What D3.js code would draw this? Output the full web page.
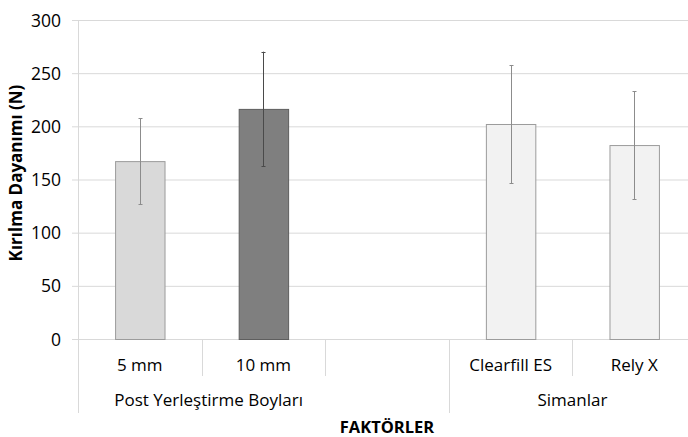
<!DOCTYPE html>
<html><head><meta charset="utf-8">
<script src="https://cdn.jsdelivr.net/npm/d3@7/dist/d3.min.js"></script>
<style>body{margin:0;background:#fff}svg{display:block}text{font-family:"Open Sans",sans-serif;fill:#000}</style>
</head><body><svg id="c" width="688" height="437"></svg>
<script>
const categories = ["5 mm", "10 mm", "", "Clearfill ES", "Rely X"];
const means = [167.3, 216.4, null, 202.2, 182.4];
const errors = [40.4, 53.8, null, 55.5, 50.7];
const groups = ["Post Yerleştirme Boyları", "Simanlar"];
const groupStart = [0, 3];
const groupEnd = [2, 4];
const yTicks = [0, 50, 100, 150, 200, 250, 300];
const fills = ["#d9d9d9", "#7f7f7f", null, "#f2f2f2", "#f2f2f2"];
const strokes = ["#9c9c9c", "#5e5e5e", null, "#9c9c9c", "#9c9c9c"];
const errColors = ["#8c8c8c", "#4a4a4a", null, "#8c8c8c", "#8c8c8c"];

const svg = d3.select("#c");
const L = 78, R = 696, T = 20, B = 339;
const idx = categories.map((d, i) => i);
const x = d3.scaleBand().domain(idx).range([L, R]).padding(0);
const y = d3.scaleLinear().domain([0, 300]).range([B, T]);
const grid = "#d9d9d9";

// gridlines + y ticks
svg.append("g").selectAll("line").data(yTicks).join("line")
  .attr("x1", L - 6).attr("x2", 688).attr("y1", d => y(d) + 0.5).attr("y2", d => y(d) + 0.5)
  .attr("stroke", grid).attr("stroke-width", 1);
svg.append("g").selectAll("text").data(yTicks).join("text")
  .attr("x", 61).attr("y", d => y(d) + 6.5).attr("text-anchor", "end")
  .style("font-size", "17.5px").text(d => d);
// y axis line
svg.append("line").attr("x1", L + 0.5).attr("x2", L + 0.5).attr("y1", T).attr("y2", B)
  .attr("stroke", grid);

// category axis separators
const bw = x.bandwidth();
const inner = d3.range(1, categories.length).filter(i => !groupStart.includes(i));
svg.append("g").selectAll("line").data(inner).join("line")
  .attr("x1", i => Math.round(x(i)) + 0.5).attr("x2", i => Math.round(x(i)) + 0.5)
  .attr("y1", B).attr("y2", 376).attr("stroke", grid);
svg.append("g").selectAll("line").data(groupStart.concat([categories.length])).join("line")
  .attr("x1", i => Math.round(i < categories.length ? x(i) : R) + 0.5)
  .attr("x2", i => Math.round(i < categories.length ? x(i) : R) + 0.5)
  .attr("y1", B).attr("y2", 413).attr("stroke", grid);

// bars
const bars = idx.filter(i => means[i] != null);
const barW = bw * 0.4;
svg.append("g").selectAll("rect").data(bars).join("rect")
  .attr("x", i => x(i) + (bw - barW) / 2 + 0.5).attr("y", i => y(means[i]) + 0.5)
  .attr("width", barW).attr("height", i => y(0) - y(means[i]))
  .attr("fill", i => fills[i]).attr("stroke", i => strokes[i]).attr("stroke-width", 1);

// error bars
const eg = svg.append("g");
bars.forEach(i => {
  const cx = Math.round(x(i) + bw / 2) + 0.5;
  const c = errColors[i];
  eg.append("line").attr("x1", cx).attr("x2", cx)
    .attr("y1", y(means[i] + errors[i])).attr("y2", y(means[i] - errors[i])).attr("stroke", c);
  [means[i] + errors[i], means[i] - errors[i]].forEach(v => {
    eg.append("line").attr("x1", cx - 2).attr("x2", cx + 2)
      .attr("y1", Math.round(y(v)) + 0.5).attr("y2", Math.round(y(v)) + 0.5).attr("stroke", c);
  });
});

// category labels
svg.append("g").selectAll("text").data(idx).join("text")
  .attr("x", i => x(i) + bw / 2).attr("y", 371).attr("text-anchor", "middle")
  .style("font-size", "17px").text(i => categories[i]);

// group labels
const groupCenter = g => g === 0 ? (x(0) + x(1) + bw) / 2 + 7 : (x(groupStart[g]) + R) / 2;
svg.append("g").selectAll("text").data(groups).join("text")
  .attr("x", (d, g) => groupCenter(g)).attr("y", 406).attr("text-anchor", "middle")
  .style("font-size", "17px").text(d => d);

// axis titles
svg.append("text").attr("x", (L + R) / 2).attr("y", 433).attr("text-anchor", "middle")
  .style("font-size", "16.5px").style("font-weight", "bold").text("FAKTÖRLER");
svg.append("text").attr("transform", "translate(22,173) rotate(-90)").attr("text-anchor", "middle")
  .style("font-size", "17px").style("font-weight", "bold").text("Kırılma Dayanımı (N)");
</script></body></html>
